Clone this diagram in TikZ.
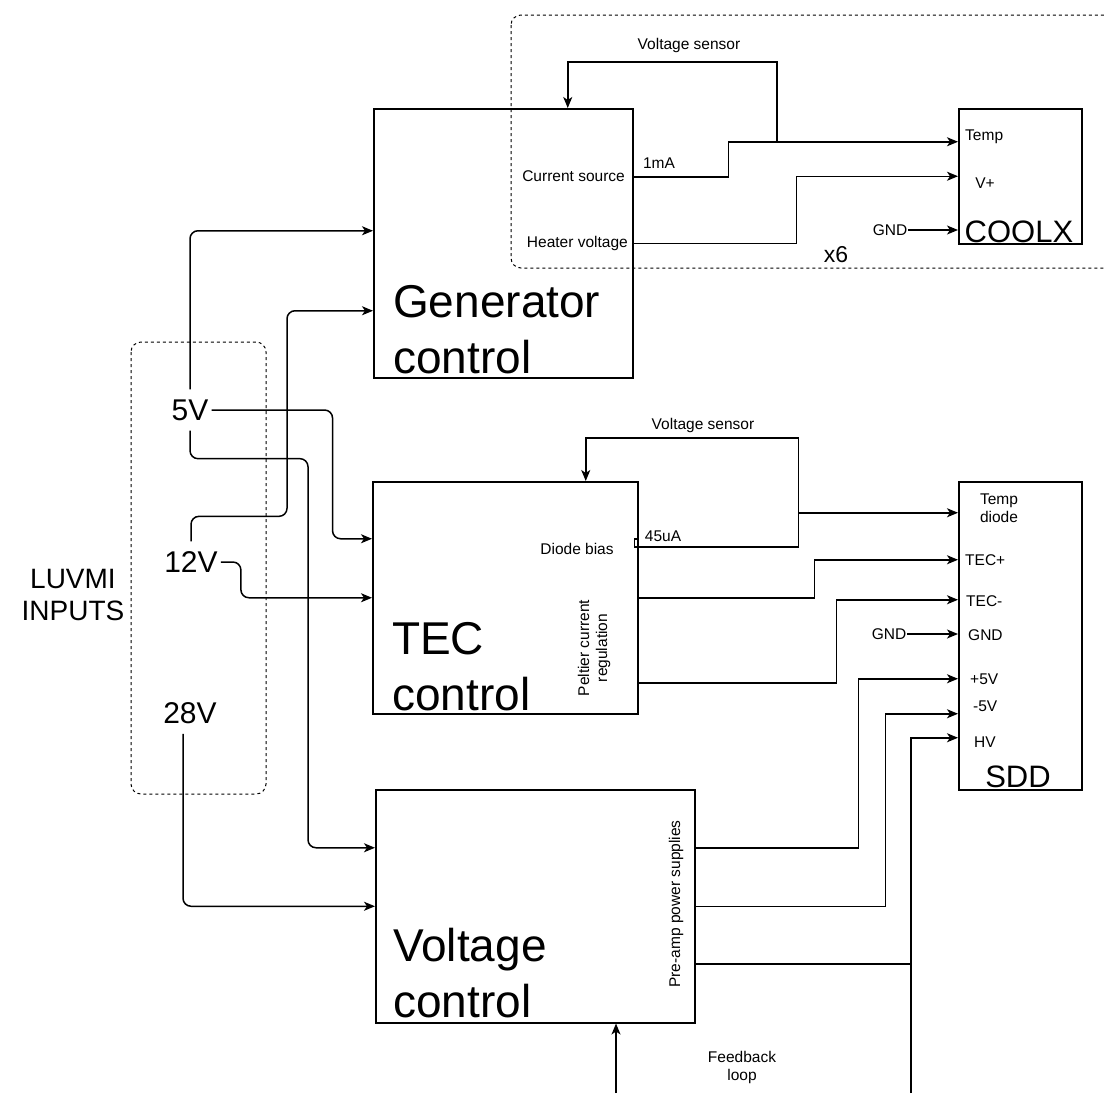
\documentclass[tikz,border=0pt]{standalone}
\usepackage{fontspec}
\setmainfont{Liberation Sans}
\usepackage{tikz}
\usetikzlibrary{arrows.meta, positioning}

\begin{document}
\begin{tikzpicture}[
    x=1pt, y=-1pt,
    >={Stealth[length=11pt, width=9pt, inset=3pt]},
    wire/.style={line width=1.5pt},
    feed/.style={wire, rounded corners=8pt},
    block/.style={rectangle, draw=black, line width=1.5pt, anchor=north west, inner sep=0pt},
    group/.style={draw=black, line width=1pt, dash pattern=on 3pt off 3pt, rounded corners=10pt},
    lbl/.style={font=\fontsize{15.5}{18}\selectfont, inner sep=1pt, align=center},
    big/.style={font=\fontsize{46}{56}\selectfont, inner sep=0pt, align=left, anchor=base west},
    mid/.style={font=\fontsize{31}{34}\selectfont, inner sep=0pt, anchor=base},
    volt/.style={font=\fontsize{30}{34}\selectfont, inner xsep=3pt, inner ysep=10pt}
]
\useasboundingbox (0,0) rectangle (1105,1093);

% Main blocks
\node[block, minimum width=259pt, minimum height=269pt] (gen) at (373,108) {};
\node[block, minimum width=265pt, minimum height=232pt] (tec) at (372,481) {};
\node[block, minimum width=319pt, minimum height=233pt] (vctl) at (375,789) {};
\node[block, minimum width=123pt, minimum height=135pt] (coolx) at (958,108) {};
\node[block, minimum width=123pt, minimum height=308pt] (sdd) at (958,481) {};

% base of the last line sits on the given point
\node[big] (genlbl) at (393,373) {Generator\\control};
\node[big] (teclbl) at (392,710) {TEC\\control};
\node[big] (vctllbl) at (393,1017) {Voltage\\control};
\node[mid] (coolxlbl) at (1019,242) {COOLX};
\node[mid] (sddlbl) at (1018,787) {SDD};

% Generator / COOLX labels
\node[lbl, anchor=east] (csrc) at (626,176) {Current source};
\node[lbl, anchor=east] (heat) at (629,243) {Heater voltage};
\node[lbl] (ima) at (659,163) {1mA};
\node[lbl] (gsenselbl) at (689,45) {Voltage sensor};
\node[lbl, anchor=west] (ctemp) at (964,137) {Temp};
\node[lbl] (cvplus) at (985,183) {V+};
\node[lbl] (cgnd) at (890,230) {GND};
\node[font=\fontsize{23}{26}\selectfont] (xsix) at (836,255) {x6};

% TEC / SDD labels
\node[lbl] (dbias) at (577,549) {Diode bias};
\node[lbl] (iua) at (663,536) {45uA};
\node[lbl, rotate=90] (pelt) at (594,648) {Peltier current\\regulation};
\node[lbl] (tsenselbl) at (703,425) {Voltage sensor};
\node[lbl] (sdiode) at (999,508) {Temp\\diode};
\node[lbl, anchor=west] (stecp) at (964,560) {TEC+};
\node[lbl, anchor=west] (stecm) at (965,601) {TEC-};
\node[lbl, anchor=west] (sgnd) at (967,635) {GND};
\node[lbl, anchor=west] (sp5) at (969,679) {+5V};
\node[lbl, anchor=west] (sm5) at (972,706) {-5V};
\node[lbl, anchor=west] (shv) at (973,742) {HV};
\node[lbl] (tgnd) at (889,634) {GND};

% Voltage control labels
\node[lbl, rotate=90] (preamp) at (676,904) {Pre-amp power supplies};
\node[lbl] (fblbl) at (742,1067) {Feedback\\loop};

% Inputs
\node[font=\fontsize{28}{32}\selectfont, align=center] (luvmi) at (73,595) {LUVMI\\INPUTS};
\node[volt] (v5) at (190,410) {5V};
\node[volt] (v12) at (191,562) {12V};
\node[volt] (v28) at (190,713) {28V};

% Dashed groups
\draw[group] (511,15) rectangle (1130,268);
\draw[group] (131,342) rectangle (266,794);

% Input feeds
\draw[feed, ->] (v5.north) |- ([yshift=12.5pt]gen.west);
\draw[feed, ->] (v5.east) -- ++(121,0) |- ([yshift=59pt]tec.west);
\draw[feed, ->] (v5.south) -- ++(0,28) -- ++(118,0) |- ([yshift=58.5pt]vctl.west);
\draw[feed, ->] (v12.north) -- ++(0,-25) -- ++(96,0) |- ([yshift=-67.5pt]gen.west);
\draw[feed, ->] (v12.east) -- ++(20,0) |- (tec.west);
\draw[feed, ->] ([xshift=-7pt]v28.south) |- (vctl.west);

% Generator to COOLX
\draw[wire, ->] ([yshift=66.5pt]gen.east) -- ++(95,0) |- ([yshift=34.5pt]coolx.west);
\coordinate (gtap) at ([xshift=-181pt, yshift=34.5pt]coolx.west);
\draw[wire, ->] (gtap) -- ++(0,-80) -| ([xshift=64.5pt]gen.north);
\draw[wire, ->] (gen.east) -- ++(163,0) |- (coolx.west);
\draw[wire, ->] (cgnd.east) -- (cgnd.east -| coolx.west);

% TEC to SDD
\draw[wire] ([yshift=59pt]tec.east) -- ++(-4,0) -- ++(0,8) -- ++(164,0) -- ++(0,-34) coordinate (ttap);
\draw[wire, ->] (ttap) -- (ttap -| sdd.west);
\draw[wire, ->] (ttap) -- ++(0,-75) -| ([xshift=80.5pt]tec.north);
\draw[wire, ->] (tec.east) -- ++(176,0) |- ([yshift=76pt]sdd.west);
\draw[wire, ->] ([yshift=-85pt]tec.east) -- ++(198,0) |- ([yshift=36pt]sdd.west);
\draw[wire, ->] (tgnd.east) -- (tgnd.east -| sdd.west);

% Voltage control to SDD
\draw[wire, ->] ([yshift=58.5pt]vctl.east) -- ++(163,0) |- ([yshift=-43pt]sdd.west);
\draw[wire, ->] (vctl.east) -- ++(190,0) |- ([yshift=-78pt]sdd.west);
\coordinate (hvfoot) at (911,1093);
\draw[wire, ->] (hvfoot) |- ([yshift=-102pt]sdd.west);
\draw[wire] ([yshift=-57.5pt]vctl.east) -| (hvfoot);
\coordinate (fbfoot) at (616,1093);
\draw[wire, ->] (fbfoot) -- (fbfoot |- vctl.south);
\end{tikzpicture}
\end{document}
